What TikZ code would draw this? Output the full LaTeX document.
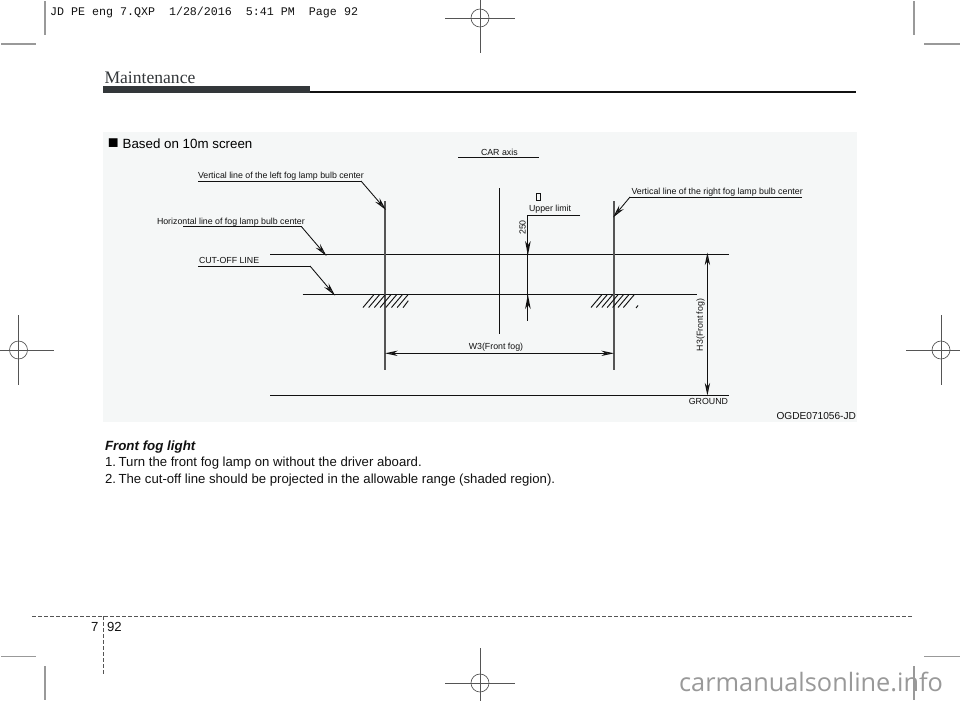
\documentclass[tikz,border=0pt]{standalone}
\usepackage{fontspec}
\setmainfont{Liberation Sans}
\setmonofont{Liberation Mono}
\newfontfamily\hdfont{Liberation Serif}
\newfontfamily\wmfont{Open Sans}
\usetikzlibrary{arrows.meta}
\definecolor{panel}{HTML}{F5F7F7}
\definecolor{ink}{HTML}{111111}
\definecolor{barcol}{HTML}{33373A}
\definecolor{postcol}{HTML}{555555}
\definecolor{cropcol}{HTML}{999999}
\tikzset{
  x=0.75pt,y=-0.75pt,
  txt/.style={inner sep=0pt,outer sep=0pt,anchor=base west,text=ink},
  lbl/.style={txt,font=\fontsize{6.6pt}{7pt}\selectfont},
  body/.style={txt,font=\fontsize{9.87pt}{12pt}\selectfont},
  rule/.style={draw=ink,line width=0.7pt},
  leader/.style={draw=ink,line width=0.65pt},
  post/.style={draw=postcol,line width=1.1pt},
  arr/.style={draw=ink,line width=0.7pt,{Stealth[length=9.5pt,width=4pt,inset=3pt,fill=postcol]}-{Stealth[length=9.5pt,width=4pt,inset=3pt,fill=postcol]}},
  lead arrow/.style={draw=ink,line width=0.65pt,-{Stealth[length=10pt,width=4.4pt,inset=3.5pt,fill=postcol]}},
  crop/.style={draw=cropcol,line width=0.8pt},
  reg/.style={draw=postcol,line width=0.5pt},
  hatchline/.style={draw=ink,line width=0.7pt},
  dash rule/.style={draw=postcol,line width=0.7pt,dash pattern=on 3pt off 1.5pt},
}
\begin{document}
\begin{tikzpicture}
\useasboundingbox (0,0) rectangle (960,700);
\fill[white] (0,0) rectangle (960,700);
% crop marks
\draw[crop] (45,1) -- (45,35);
\draw[crop] (1,44) -- (36,44);
\draw[crop] (914,1) -- (914,35);
\draw[crop] (924,44) -- (960,44);
\draw[crop] (1,656.5) -- (36,656.5);
\draw[crop] (45,666) -- (45,700);
\draw[crop] (924,656.5) -- (960,656.5);
% registration marks
\foreach \cx/\cy in {480/18,18.5/350,941/350,480/683}{
  \draw[reg] (\cx-35,\cy) -- (\cx+35,\cy);
  \draw[reg] (\cx,\cy-35) -- (\cx,\cy+35);
  \draw[reg] (\cx,\cy) circle [radius=9];
}
% header
\node[txt,font=\ttfamily\fontsize{8.75pt}{10pt}\selectfont] (slug) at (50,15) {JD PE eng 7.QXP\ \ 1/28/2016\ \ 5:41 PM\ \ Page 92};
\node[txt,font=\hdfont\fontsize{13.2pt}{15pt}\selectfont,text=barcol] (title) at (104.5,83) {Maintenance};
\fill[barcol] (103,86) rectangle (310,92.5);
\draw[draw=ink,line width=0.9pt] (310,92) -- (856,92);
% panel
\fill[panel] (103,132) rectangle (857,421.5);
\node[txt,text=black,font=\fontsize{10pt}{12pt}\selectfont] (based) at (107.8,148) {{\fontsize{13.5pt}{12pt}\selectfont ■}\hspace{3pt}Based on 10m screen};
% coordinates
\coordinate (lvT) at (385,201); \coordinate (lvB) at (385,370);
\coordinate (rvT) at (614,201); \coordinate (rvB) at (614,370);
\coordinate (caT) at (499.5,188); \coordinate (caB) at (499.5,334);
\coordinate (hL) at (270,254.6); \coordinate (hR) at (729,254.6);
\coordinate (cL) at (302.5,294.5); \coordinate (cR) at (697,294.5);
\coordinate (gL) at (270,395.5); \coordinate (gR) at (729,395.5);
% main lines
\draw[rule] (hL) -- (hR);
\draw[rule] (cL) -- (cR);
\draw[rule] (gL) -- (gR);
\draw[rule] (caT) -- (caB);
\draw[post] (lvT) -- (lvB);
\draw[post] (rvT) -- (rvB);
% hatching
\foreach \k in {0,...,6}{
  \draw[hatchline] (363+5.7*\k,307.5) -- (374+5.7*\k,294.5);
}
\draw[hatchline] (403,307.7) -- (408.3,300.7);
\foreach \k in {0,...,6}{
  \draw[hatchline] (591+5.4*\k,307.5) -- (602+5.4*\k,294.5);
}
\draw[hatchline] (636,308) -- (638,305.5);
% dimension arrows
\coordinate (w3L) at (385,353.3); \coordinate (w3R) at (614,353.3);
\draw[arr] (w3L) -- (w3R);
\coordinate (h3T) at (707.4,252.5); \coordinate (h3B) at (707.4,395.5);
\draw[arr] (h3T) -- (h3B);
\coordinate (ulC) at (527.9,215); \coordinate (ulE) at (580,215); \coordinate (ulTip) at (527.9,255);
\coordinate (ulB) at (527.9,321); \coordinate (ulTipB) at (527.9,294.5);
\draw[rule] (ulE) -- (ulC) -- (ulTip) -- (ulTipB) -- (ulB);
\fill[ink] (527.9,255.5) -- (525.1,241) -- (527.9,245) -- (530.7,241) -- cycle;
\fill[ink] (527.9,294.5) -- (525.1,309) -- (527.9,305) -- (530.7,309) -- cycle;
% leaders
\coordinate (a1) at (198,181); \coordinate (a2) at (361,181); \coordinate (a3) at (386,210);
\draw[leader] (a1) -- (a2);
\draw[lead arrow] (a2) -- (a3);
\coordinate (b1) at (183,226.7); \coordinate (b2) at (301.5,226.7); \coordinate (b3) at (326.5,256);
\draw[leader] (b1) -- (b2);
\draw[lead arrow] (b2) -- (b3);
\coordinate (c1) at (198,266); \coordinate (c2) at (310,266); \coordinate (c3) at (335,295.5);
\draw[leader] (c1) -- (c2);
\draw[lead arrow] (c2) -- (c3);
\coordinate (d1) at (802,197); \coordinate (d2) at (630,197); \coordinate (d3) at (613,217.5);
\draw[leader] (d1) -- (d2);
\draw[lead arrow] (d2) -- (d3);
\coordinate (e1) at (458,157.7); \coordinate (e2) at (539,157.7);
\draw[leader] (e1) -- (e2);
% labels
\node[lbl] (carax) at (481,155) {CAR axis};
\node[lbl] (vl) at (198,178) {Vertical line of the left fog lamp bulb center};
\node[lbl] (hz) at (157,224) {Horizontal line of fog lamp bulb center};
\node[lbl] (co) at (199,263) {CUT-OFF LINE};
\node[lbl] (vr) at (631.5,194) {Vertical line of the right fog lamp bulb center};
\node[lbl] (ul) at (529,211) {Upper limit};
\node[draw=ink,line width=0.4pt,minimum width=3pt,minimum height=5.2pt,inner sep=0pt] (box) at (538.7,196.5) {};
\node[lbl,rotate=90,anchor=center] (d250) at (522.5,227.5) {250};
\node[lbl,rotate=90,anchor=center] (h3) at (700.5,325) {H3(Front fog)};
\node[lbl,anchor=base] (w3) at (496,349.5) {W3(Front fog)};
\node[lbl,anchor=base east] (gnd) at (728,404) {GROUND};
\node[txt,anchor=base east,font=\fontsize{7.6pt}{9pt}\selectfont] (code) at (856,419) {OGDE071056-JD};
% body
\node[body,font=\bfseries\itshape\fontsize{10pt}{12pt}\selectfont] (t0) at (105,450) {Front fog light};
\node[body] (t1) at (105,466.5) {1.\hspace{2pt}Turn the front fog lamp on without the driver aboard.};
\node[body] (t2) at (105,483) {2.\hspace{2pt}The cut-off line should be projected in the allowable range (shaded region).};
% footer
\draw[dash rule] (32,616) -- (914,616);
\draw[dash rule] (103,616) -- (103,675);
\node[body,anchor=base east] (ch) at (98.5,631) {7};
\node[body] (pg) at (107,631) {92};
% watermark
\node[txt,anchor=base east,font=\wmfont\fontsize{19pt}{24pt}\selectfont,text=cropcol] (wm) at (943,691.5) {carmanualsonline.info};
\draw[crop] (914,666) -- (914,700);
\end{tikzpicture}
\end{document}
